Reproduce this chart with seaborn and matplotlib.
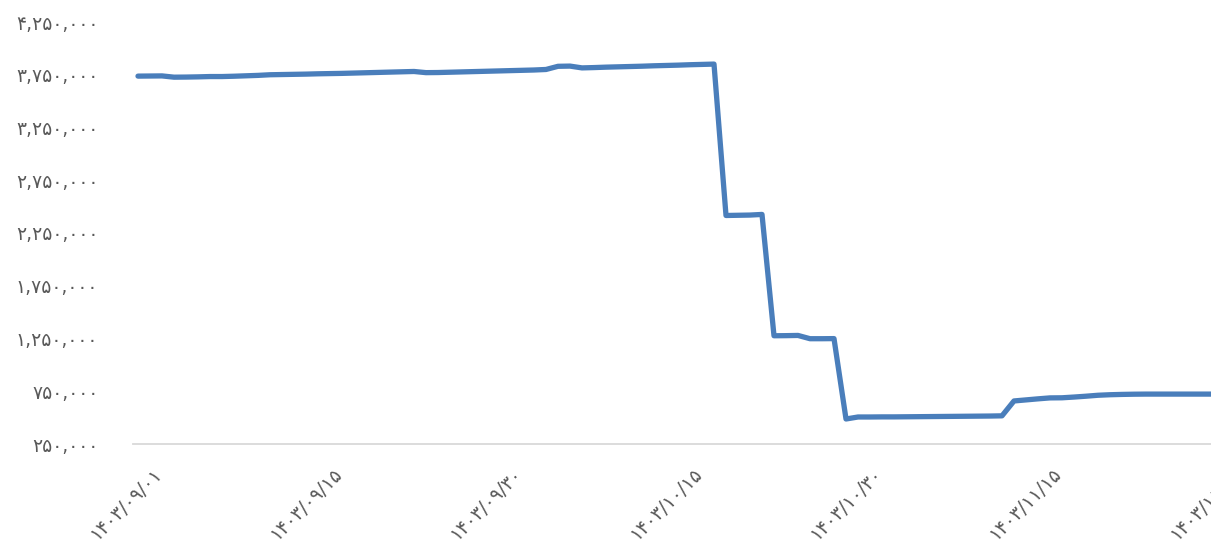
import matplotlib
matplotlib.use("Agg")
import matplotlib.pyplot as plt
import matplotlib.transforms as mtransforms
from matplotlib.ticker import FuncFormatter, FixedLocator
import seaborn as sns
import pandas as pd

# ---- data ----
price = [
    3737000, 3738000, 3739000, 3727000, 3728000, 3730000, 3733000, 3733000, 3736000, 3740000,
    3744000, 3750000, 3752000, 3754000, 3756000, 3759000, 3761000, 3763000, 3766000, 3769000,
    3772000, 3775000, 3778000, 3781000, 3770000, 3771000, 3774000, 3777000, 3780000, 3783000,
    3786000, 3789000, 3792000, 3795000, 3800000, 3830000, 3832000, 3815000, 3818000, 3822000,
    3825000, 3828000, 3831000, 3835000, 3838000, 3841000, 3845000, 3848000, 3851000, 2416000,
    2418000, 2420000, 2426000, 1276000, 1277000, 1279000, 1248000, 1248000, 1249000, 487000,
    506000, 506000, 507000, 507000, 508000, 509000, 510000, 511000, 512000, 513000,
    514000, 515000, 517000, 658000, 668000, 678000, 687000, 688000, 695000, 703000,
    712000, 717000, 720000, 722000, 723000, 723000, 723000, 723000, 723000, 723000,
    723000,
]
tick_labels = ["1403/09/01", "1403/09/15", "1403/09/30", "1403/10/15",
               "1403/10/30", "1403/11/15", "1403/11/30"]
y_ticks = [250000, 750000, 1250000, 1750000, 2250000, 2750000, 3250000, 3750000, 4250000]

FA = str.maketrans("0123456789", "۰۱۲۳۴۵۶۷۸۹")

def fa(s):
    return str(s).translate(FA)

df = pd.DataFrame({"idx": range(len(price)), "price": price})

sns.set_theme(style="white")
plt.rcParams["font.family"] = ["DejaVu Sans"]

W, H = 1211, 547
fig = plt.figure(figsize=(W / 100, H / 100), dpi=100)
left_px, right_px, bottom_px, top_px = 133, 1225, 444, 22
ax = fig.add_axes([left_px / W, 1 - bottom_px / H,
                   (right_px - left_px) / W, (bottom_px - top_px) / H])

sns.lineplot(data=df, x="idx", y="price", ax=ax, color="#4A7EBB",
             linewidth=3.8, solid_joinstyle="round", solid_capstyle="round")

ax.set_xlim(-5 / 12, (right_px - 138) / 12)
ax.set_ylim(250000, 4250000)

ax.yaxis.set_major_locator(FixedLocator(y_ticks))
ax.yaxis.set_major_formatter(FuncFormatter(lambda v, p: fa(f"{int(round(v)):,}")))

xt = [i * 15 for i in range(len(tick_labels))]
ax.set_xticks(xt)
ax.set_xticklabels([fa(t) for t in tick_labels])

ax.set_xlabel("")
ax.set_ylabel("")
for s in ["top", "right", "left"]:
    ax.spines[s].set_visible(False)
ax.spines["bottom"].set_color("#D9D9D9")
ax.spines["bottom"].set_linewidth(1.3)
ax.grid(False)
ax.tick_params(axis="both", length=0, labelsize=13.5, labelcolor="#595959")
ax.tick_params(axis="y", pad=25)
ax.tick_params(axis="x", pad=0)

offset = mtransforms.ScaledTranslation(0.14, -0.20, fig.dpi_scale_trans)
for lab in ax.get_xticklabels():
    lab.set_rotation(45)
    lab.set_ha("right")
    lab.set_va("top")
    lab.set_rotation_mode("anchor")
    lab.set_transform(lab.get_transform() + offset)

fig.savefig("out.png", dpi=100)
